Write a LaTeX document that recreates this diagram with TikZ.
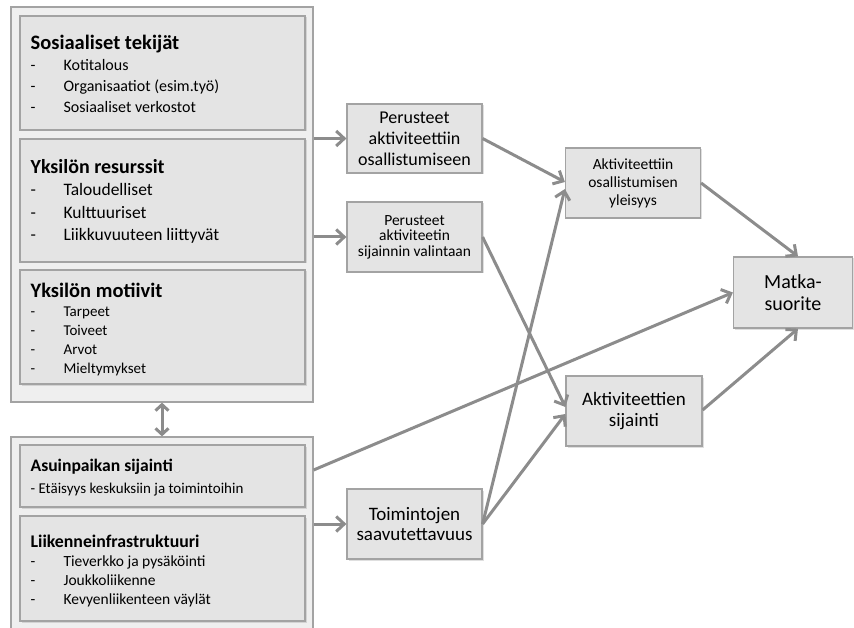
\documentclass[tikz,border=0pt]{standalone}
\usepackage{fontspec}
\setmainfont{Carlito}
\usetikzlibrary{arrows.meta,calc,shadows}
\definecolor{boxfill}{HTML}{E4E4E4}
\definecolor{outerfill}{HTML}{EFEFEF}
\definecolor{boxline}{HTML}{A3A3A3}
\definecolor{arrowgray}{HTML}{8C8C8C}
\newcommand{\dashitem}[1]{\makebox[33pt][l]{-}#1}
\tikzset{
  outerbox/.style={draw=boxline, fill=outerfill, line width=1.2pt, inner sep=0pt},
  ibox/.style={draw=boxline, fill=boxfill, line width=1.2pt, inner sep=0pt,
    drop shadow={opacity=0.25, shadow xshift=1.5pt, shadow yshift=-1.5pt}},
  ltext/.style={anchor=west, align=left, inner sep=0pt},
  midbox/.style={ibox, align=center},
  conn/.style={draw=arrowgray, line width=3pt, -{Straight Barb[length=8pt,width=15pt,line width=3pt]}},
  dconn/.style={draw=arrowgray, line width=3pt, {Straight Barb[length=6pt,width=13pt,line width=3pt]}-{Straight Barb[length=6pt,width=13pt,line width=3pt]}}
}
\begin{document}
\begin{tikzpicture}[x=1pt,y=-1pt]
\useasboundingbox (0,0) rectangle (854,628);
% outer containers
\node[outerbox, minimum width=302, minimum height=395] (out1) at (162,204.5) {};
\node[outerbox, minimum width=302, minimum height=192] (out2) at (162,533) {};
% left inner boxes
\node[ibox, minimum width=285, minimum height=114] (soc) at (162.5,73) {};
\node[ltext, font=\fontsize{16}{21}\selectfont] (soct) at ($(soc.west)+(11,1)$)
  {{\fontsize{20.5}{21}\selectfont\bfseries Sosiaaliset tekijät}\\
   \dashitem{Kotitalous}\\
   \dashitem{Organisaatiot (esim.työ)}\\
   \dashitem{Sosiaaliset verkostot}};
\node[ibox, minimum width=285, minimum height=123] (res) at (162.5,200.5) {};
\node[ltext, font=\fontsize{17.5}{22.5}\selectfont] (rest) at ($(res.west)+(11,1)$)
  {{\fontsize{20}{22.5}\selectfont\bfseries Yksilön resurssit}\\
   \dashitem{Taloudelliset}\\
   \dashitem{Kulttuuriset}\\
   \dashitem{Liikkuvuuteen liittyvät}};
\node[ibox, minimum width=285, minimum height=114] (mot) at (162.5,327) {};
\node[ltext, font=\fontsize{15}{19}\selectfont] (mott) at ($(mot.west)+(11,3)$)
  {{\fontsize{20.5}{22}\selectfont\bfseries Yksilön motiivit}\\
   \dashitem{Tarpeet}\\
   \dashitem{Toiveet}\\
   \dashitem{Arvot}\\
   \dashitem{Mieltymykset}};
\node[ibox, minimum width=285, minimum height=62] (asu) at (162.5,476) {};
\node[ltext, font=\fontsize{15}{22}\selectfont] (asut) at ($(asu.west)+(11,2)$)
  {{\fontsize{17.6}{22}\selectfont\bfseries Asuinpaikan sijainti}\\
   - Etäisyys keskuksiin ja toimintoihin};
\node[ibox, minimum width=285, minimum height=105] (lii) at (162.5,568.5) {};
\node[ltext, font=\fontsize{15.5}{19}\selectfont] (liit) at ($(lii.west)+(11,3)$)
  {{\fontsize{17.8}{21}\selectfont\bfseries Liikenneinfrastruktuuri}\\
   \dashitem{Tieverkko ja pysäköinti}\\
   \dashitem{Joukkoliikenne}\\
   \dashitem{Kevyenliikenteen väylät}};
% middle boxes
\node[midbox, minimum width=135, minimum height=69,
  font=\fontsize{18}{21}\selectfont] (p1) at (414.5,138.5)
  {Perusteet\\aktiviteettiin\\osallistumiseen};
\node[midbox, minimum width=135, minimum height=70,
  font=\fontsize{15.5}{15.5}\selectfont] (p2) at (414.5,237)
  {Perusteet\\aktiviteetin\\sijainnin valintaan};
\node[midbox, minimum width=135, minimum height=70,
  font=\fontsize{19}{20.5}\selectfont] (toim) at (414.5,524)
  {Toimintojen\\saavutettavuus};
% right boxes
\node[midbox, minimum width=135, minimum height=70,
  font=\fontsize{15.5}{18}\selectfont] (a1) at (633,183)
  {Aktiviteettiin\\osallistumisen\\yleisyys};
\node[midbox, minimum width=136, minimum height=70,
  font=\fontsize{19}{21}\selectfont] (sij) at (634,411)
  {Aktiviteettien\\sijainti};
\node[midbox, minimum width=119, minimum height=71,
  font=\fontsize{20}{22}\selectfont] (mat) at (793,292.5)
  {Matka-\\suorite};
% connectors
\draw[conn] (out1.east |- p1.west) -- (p1.west);
\draw[conn] (out1.east |- p2.west) -- (p2.west);
\draw[conn] (out2.east |- toim.west) -- (toim.west);
\draw[dconn] (out1.south) -- (out2.north);
\draw[conn] (p1.east) -- ($(a1.west)+(0,-1)$);
\draw[conn] (p2.east) -- ($(sij.west)+(0,-4)$);
\draw[conn] (toim.east) -- ($(a1.west)+(0,6)$);
\draw[conn] (toim.east) -- ($(sij.west)+(0,3)$);
\draw[conn] ($(out2.east |- asu.east)+(0,-6)$) -- (mat.west);
\draw[conn] (a1.east) -- ($(mat.north)+(5,0)$);
\draw[conn] ($(sij.east)+(0,-1)$) -- ($(mat.south)+(5,0)$);
\end{tikzpicture}
\end{document}
